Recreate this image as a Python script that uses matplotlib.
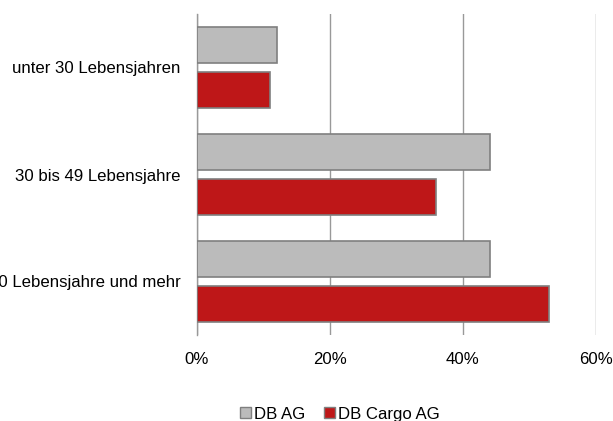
import numpy as np
import matplotlib.pyplot as plt
from matplotlib.patches import Patch

plt.rcParams['font.family'] = ['Liberation Sans', 'DejaVu Sans']

# age groups, top to bottom
groups = ["unter 30 Lebensjahren", "30 bis 49 Lebensjahre", "50 Lebensjahre und mehr"]
db_ag = [12, 44, 44]
db_cargo = [11, 36, 53]
ticks = [0, 20, 40, 60]

gray = "#bbbbbb"
red = "#be1718"
edge = "#7f7f7f"

fig = plt.figure(figsize=(6.13, 4.21), dpi=100)
ax = fig.add_axes([197 / 613, 86 / 421, 399 / 613, 321 / 421])

y = np.arange(len(groups))
h = 0.33
ax.barh(y - 0.21, db_ag, height=h, color=gray, edgecolor=edge, linewidth=1.2, zorder=3)
ax.barh(y + 0.21, db_cargo, height=h, color=red, edgecolor=edge, linewidth=1.2, zorder=3)

ax.set_xlim(0, 60)
ax.set_ylim(2.5, -0.5)
ax.set_xticks(ticks)
ax.set_xticklabels([f"{t}%" for t in ticks])
ax.set_yticks(y)
ax.set_yticklabels(groups)
ax.tick_params(length=0, labelsize=12.1, pad=12)
ax.tick_params(axis='x', pad=12.5)

ax.grid(axis='x', color="#999999", linewidth=1, zorder=0)
for s in ["top", "right", "bottom"]:
    ax.spines[s].set_visible(False)
ax.spines["left"].set_color("#999999")
ax.spines["left"].set_linewidth(1)

handles = [Patch(facecolor=gray, edgecolor=edge, label="DB AG"),
           Patch(facecolor=red, edgecolor=edge, label="DB Cargo AG")]
fig.legend(handles=handles, loc="center", bbox_to_anchor=(0.555, 0.016), ncol=2,
           frameon=False, fontsize=12.1, handlelength=0.65, handleheight=0.65,
           handletextpad=0.2, columnspacing=1.1)

fig.savefig("out.png", dpi=100)
